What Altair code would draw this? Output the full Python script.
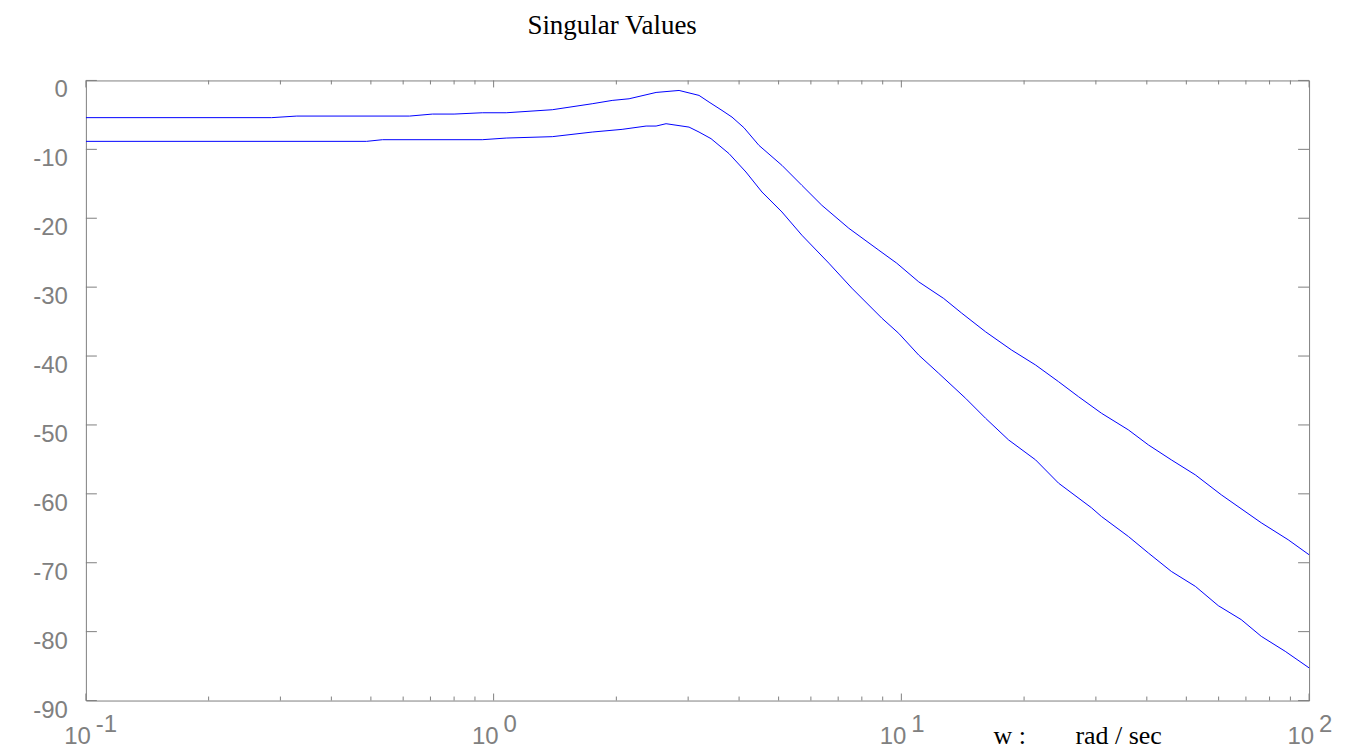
import altair as alt
import pandas as pd

# ---- data ----
w_upper = [0.1, 0.2855, 0.329, 0.622, 0.708, 0.80, 0.938, 1.074, 1.393, 1.745,
           1.953, 2.149, 2.503, 2.85, 3.19, 3.376, 3.632, 3.843, 4.111, 4.474,
           5.095, 5.702, 6.383, 7.432, 8.806, 9.743, 11.03, 12.70, 14.06, 16.09,
           18.64, 21.34, 24.30, 27.20, 30.96, 36.05, 40.36, 45.94, 52.62, 60.91,
           76.33, 88.9, 100]
db_upper = [-5.4, -5.4, -5.17, -5.17, -4.88, -4.88, -4.69, -4.69, -4.25, -3.38,
            -2.9, -2.66, -1.74, -1.45, -2.17, -3.14, -4.35, -5.32, -6.86, -9.42,
            -12.32, -15.22, -18.12, -21.45, -24.64, -26.52, -29.23, -31.64, -33.77, -36.48,
            -39.13, -41.3, -43.72, -45.9, -48.3, -50.72, -52.9, -55.07, -57.25, -60.14,
            -64.2, -66.67, -68.84]

w_lower = [0.1, 0.488, 0.534, 0.938, 1.074, 1.393, 1.745, 2.066, 2.366, 2.503,
           2.648, 3.015, 3.19, 3.414, 3.779, 4.158, 4.551, 5.095, 5.702, 6.640,
           7.559, 8.954, 9.854, 11.03, 12.35, 14.38, 16.09, 18.32, 21.34, 24.30,
           29.27, 30.96, 36.05, 40.36, 45.94, 52.62, 59.89, 68.18, 76.33, 87.4, 100]
db_lower = [-8.84, -8.84, -8.6, -8.6, -8.36, -8.16, -7.49, -7.1, -6.62, -6.62,
            -6.28, -6.77, -7.49, -8.45, -10.62, -13.29, -16.19, -19.09, -22.46, -26.52,
            -30.14, -34.49, -36.71, -39.86, -42.51, -46.14, -49.03, -52.17, -55.07, -58.45,
            -62.03, -63.29, -66.19, -68.59, -71.26, -73.43, -76.23, -78.26, -80.68, -82.86, -85.26]

y_ticks = [0, -10, -20, -30, -40, -50, -60, -70, -80, -90]
y_tick_labels = ["0", "-10", "-20", "-30", "-40", "-50", "-60", "-70", "-80", "-90"]
x_decades = [0.1, 1, 10, 100]
x_exponents = ["-1", "0", "1", "2"]
x_minor = [m * d for d in [0.1, 1, 10] for m in range(2, 10)]

title_text = "Singular Values"
xlabel_left = "w :"
xlabel_right = "rad / sec"

# ---- layout ----
W, H = 1225, 621
GRAY = "#808080"
BLUE = "#0000ff"
LFS = 24

lines_df = pd.concat([
    pd.DataFrame({"w": w_upper, "db": db_upper, "s": "upper"}),
    pd.DataFrame({"w": w_lower, "db": db_lower, "s": "lower"}),
])

xscale = alt.Scale(type="log", domain=[0.1, 100], nice=False)
yscale = alt.Scale(domain=[-90, 0], nice=False, zero=False)
X = lambda f: alt.X(f, type="quantitative", scale=xscale, axis=None)
Y = lambda f: alt.Y(f, type="quantitative", scale=yscale, axis=None)

lines = alt.Chart(lines_df).mark_line(color=BLUE, strokeWidth=1, clip=True).encode(
    x=X("w"), y=Y("db"), detail="s:N"
)

ydf = pd.DataFrame({"v": y_ticks, "lab": y_tick_labels})
ytick_l = alt.Chart(ydf).mark_rule(color=GRAY, strokeWidth=1).encode(
    y=Y("v"), x=alt.value(0), x2=alt.value(11))
ytick_r = alt.Chart(ydf).mark_rule(color=GRAY, strokeWidth=1).encode(
    y=Y("v"), x=alt.value(W - 11), x2=alt.value(W))
ylabels = alt.Chart(ydf).mark_text(
    color=GRAY, font="Liberation Sans", fontSize=LFS, align="right",
    baseline="alphabetic", dy=17
).encode(y=Y("v"), x=alt.value(-18), text="lab:N")

xdf = pd.DataFrame({"v": x_decades, "e": x_exponents, "b": ["10"] * 4})
mdf = pd.DataFrame({"v": x_minor})
xmaj_b = alt.Chart(xdf).mark_rule(color=GRAY).encode(x=X("v"), y=alt.value(H), y2=alt.value(H - 7))
xmaj_t = alt.Chart(xdf).mark_rule(color=GRAY).encode(x=X("v"), y=alt.value(0), y2=alt.value(7))
xmin_b = alt.Chart(mdf).mark_rule(color=GRAY).encode(x=X("v"), y=alt.value(H), y2=alt.value(H - 4))
xmin_t = alt.Chart(mdf).mark_rule(color=GRAY).encode(x=X("v"), y=alt.value(0), y2=alt.value(4))

xbase = alt.Chart(xdf).mark_text(
    color=GRAY, font="Liberation Sans", fontSize=LFS, align="right", baseline="alphabetic", dx=5
).encode(x=X("v"), y=alt.value(H + 44), text="b:N")
xexp = alt.Chart(xdf).mark_text(
    color=GRAY, font="Liberation Sans", fontSize=LFS, align="left", baseline="alphabetic", dx=10
).encode(x=X("v"), y=alt.value(H + 32), text="e:N")

tdf = pd.DataFrame({"t": [title_text]})
title = alt.Chart(tdf).mark_text(
    color="black", font="Liberation Serif", fontSize=27, align="center", baseline="alphabetic"
).encode(x=alt.value(527), y=alt.value(-47), text="t:N")

ldf1 = pd.DataFrame({"t": [xlabel_left]})
ldf2 = pd.DataFrame({"t": [xlabel_right]})
xl1 = alt.Chart(ldf1).mark_text(
    color="black", font="Liberation Serif", fontSize=26, align="left", baseline="alphabetic"
).encode(x=alt.value(909), y=alt.value(H + 44), text="t:N")
xl2 = alt.Chart(ldf2).mark_text(
    color="black", font="Liberation Serif", fontSize=26, align="left", baseline="alphabetic"
).encode(x=alt.value(991), y=alt.value(H + 44), text="t:N")

chart = alt.layer(
    xmin_b, xmin_t, xmaj_b, xmaj_t, ytick_l, ytick_r, lines,
    ylabels, xbase, xexp, title, xl1, xl2
).properties(
    width=W, height=H,
    autosize=alt.AutoSizeParams(type="none"),
    padding={"left": 78, "top": 72, "right": 50, "bottom": 60},
    background="white",
).configure_view(stroke=GRAY, strokeWidth=1)

chart.save("out.html", embed_options={"renderer": "svg", "actions": False})
